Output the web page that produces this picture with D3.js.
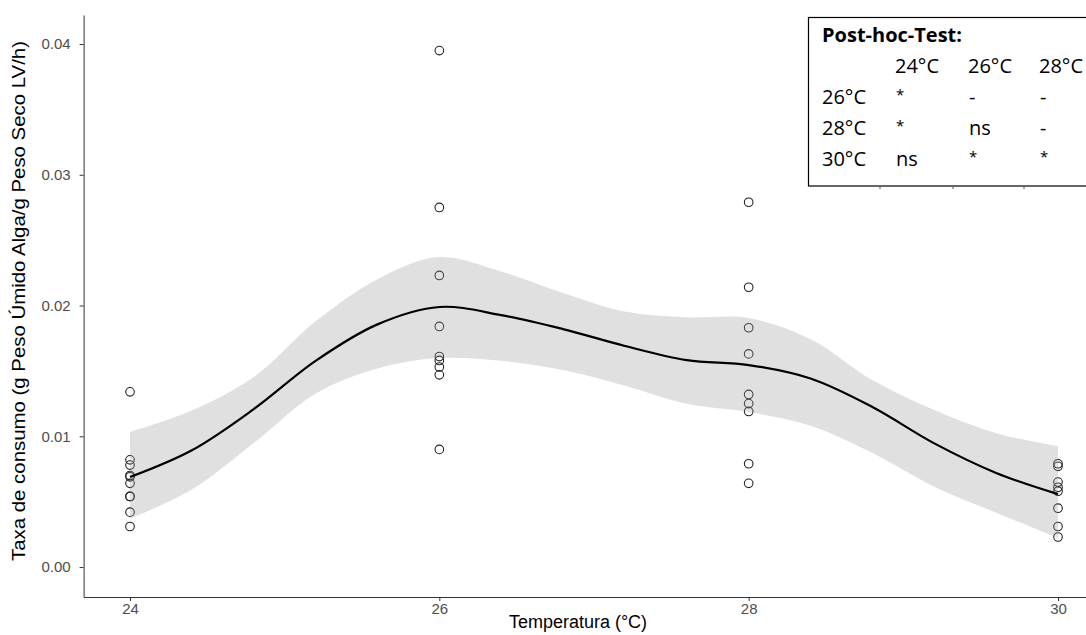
<!DOCTYPE html>
<html lang="pt">
<head>
<meta charset="utf-8">
<title>Taxa de consumo</title>
<script src="https://cdn.jsdelivr.net/npm/d3@7"></script>
<style>
  body { margin: 0; background: #fff; }
  svg { display: block; }
  .tick text { fill: #4d4d4d; font-family: "Liberation Sans", Arial, sans-serif; font-size: 15px; }
  .tick line, .domain { stroke: #333; }
  .ptable text { font-family: "Open Sans", sans-serif; font-size: 20px; fill: #000; }
</style>
</head>
<body>
<div id="chart"></div>
<script>
// raw points per temperature
var temps = [24, 26, 28, 30];
var rate24 = [0.0134, 0.0082, 0.0078, 0.0070, 0.0069, 0.0064, 0.0054, 0.0054, 0.0042, 0.0031];
var rate26 = [0.0395, 0.0275, 0.0223, 0.0184, 0.0161, 0.0158, 0.0153, 0.0147, 0.0090];
var rate28 = [0.0279, 0.0214, 0.0183, 0.0163, 0.0132, 0.0125, 0.0119, 0.0079, 0.0064];
var rate30 = [0.0079, 0.0077, 0.0065, 0.0061, 0.0058, 0.0045, 0.0031, 0.0023];

// loess smooth + confidence band
var smoothT     = [24, 24.4, 24.8, 25.2, 25.6, 26, 26.4, 26.8, 27.2, 27.6, 28, 28.4, 28.8, 29.2, 29.6, 30];
var smoothFit   = [0.00688, 0.00893, 0.01208, 0.01577, 0.01856, 0.01989, 0.01927, 0.01820, 0.01691, 0.01582, 0.01545, 0.01442, 0.01224, 0.00946, 0.00720, 0.00558];
var smoothUpper = [0.01033, 0.01197, 0.01453, 0.01880, 0.02202, 0.02371, 0.02260, 0.02096, 0.01954, 0.01910, 0.01904, 0.01743, 0.01430, 0.01201, 0.01024, 0.00925];
var smoothLower = [0.00370, 0.00593, 0.00948, 0.01326, 0.01518, 0.01598, 0.01578, 0.01507, 0.01386, 0.01248, 0.01185, 0.01081, 0.00872, 0.00615, 0.00416, 0.00222];

var yTicks = [0, 0.01, 0.02, 0.03, 0.04];

// post-hoc table
var phTitle = "Post-hoc-Test:";
var phCols = ["24°C", "26°C", "28°C"];
var phRows = ["26°C", "28°C", "30°C"];
var phCells = [["*", "-", "-"], ["*", "ns", "-"], ["ns", "*", "*"]];

var width = 1086, height = 635;

var svg = d3.select("#chart").append("svg")
    .attr("width", width)
    .attr("height", height);

var x = d3.scaleLinear().domain([23.7, 30.3]).range([83.6, 1104.4]);
var y = d3.scaleLinear().domain([-0.00229, 0.04222]).range([597, 15]);

var points = [];
[rate24, rate26, rate28, rate30].forEach(function(arr, i) {
  arr.forEach(function(v) { points.push({t: temps[i], v: v}); });
});

// points (drawn under the band like ggplot)
svg.append("g").selectAll("circle")
    .data(points)
  .enter().append("circle")
    .attr("cx", function(d) { return x(d.t); })
    .attr("cy", function(d) { return y(d.v); })
    .attr("r", 4.3)
    .attr("fill", "none")
    .attr("stroke", "#222")
    .attr("stroke-width", 1.1);

var band = smoothT.map(function(t, i) {
  return {t: t, fit: smoothFit[i], lo: smoothLower[i], hi: smoothUpper[i]};
});

svg.append("path")
    .datum(band)
    .attr("fill", "#999")
    .attr("fill-opacity", 0.3)
    .attr("d", d3.area()
      .curve(d3.curveCatmullRom)
      .x(function(d) { return x(d.t); })
      .y0(function(d) { return y(d.lo); })
      .y1(function(d) { return y(d.hi); }));

svg.append("path")
    .datum(band)
    .attr("fill", "none")
    .attr("stroke", "#000")
    .attr("stroke-width", 2.2)
    .attr("d", d3.line()
      .curve(d3.curveCatmullRom)
      .x(function(d) { return x(d.t); })
      .y(function(d) { return y(d.fit); }));

// axes
svg.append("g")
    .attr("transform", "translate(83.6,0)")
    .call(d3.axisLeft(y).tickValues(yTicks).tickFormat(d3.format(".2f")).tickSize(4).tickSizeOuter(0))
    .call(function(g) { g.selectAll(".tick text").attr("x", -13); });

svg.append("g")
    .attr("transform", "translate(0,597)")
    .call(d3.axisBottom(x).tickValues(temps).tickFormat(d3.format("d")).tickSize(4).tickSizeOuter(0))
    .call(function(g) { g.selectAll(".tick text").attr("y", 6); });

svg.append("text")
    .attr("x", 578)
    .attr("y", 628)
    .attr("text-anchor", "middle")
    .style("font-family", "Liberation Sans, Arial, sans-serif")
    .style("font-size", "18px")
    .text("Temperatura (°C)");

svg.append("text")
    .attr("transform", "translate(25,301) rotate(-90)")
    .attr("text-anchor", "middle")
    .attr("textLength", 520)
    .attr("lengthAdjust", "spacingAndGlyphs")
    .style("font-family", "Liberation Sans, Arial, sans-serif")
    .style("font-size", "18px")
    .text("Taxa de consumo (g Peso Úmido Alga/g Peso Seco LV/h)");

// post-hoc box
var tb = svg.append("g").attr("class", "ptable");

tb.append("rect")
    .attr("x", 808.5).attr("y", 17.5)
    .attr("width", 320).attr("height", 168.5)
    .attr("fill", "#fff")
    .attr("stroke", "#000")
    .attr("stroke-width", 1.2);

var colX = [895, 968, 1039];
tb.selectAll(".bt")
    .data(colX)
  .enter().append("line")
    .attr("x1", function(d) { return d - 15; })
    .attr("x2", function(d) { return d - 15; })
    .attr("y1", 186).attr("y2", 189)
    .attr("stroke", "#555");

tb.append("text")
    .attr("x", 822).attr("y", 42)
    .style("font-weight", "bold")
    .text(phTitle);

tb.selectAll(".ch")
    .data(phCols)
  .enter().append("text")
    .attr("x", function(d, i) { return colX[i]; })
    .attr("y", 73)
    .text(function(d) { return d; });

var rowY = [104, 135, 166];
phRows.forEach(function(r, i) {
  tb.append("text").attr("x", 822).attr("y", rowY[i]).text(r);
  phCells[i].forEach(function(c, j) {
    var t = tb.append("text").attr("x", colX[j] + 1).attr("y", rowY[i]).text(c);
    // calibri-like small raised asterisk
    if (c === "*") t.style("font-size", "15px").attr("y", rowY[i] - 4);
  });
});
</script>
</body>
</html>
